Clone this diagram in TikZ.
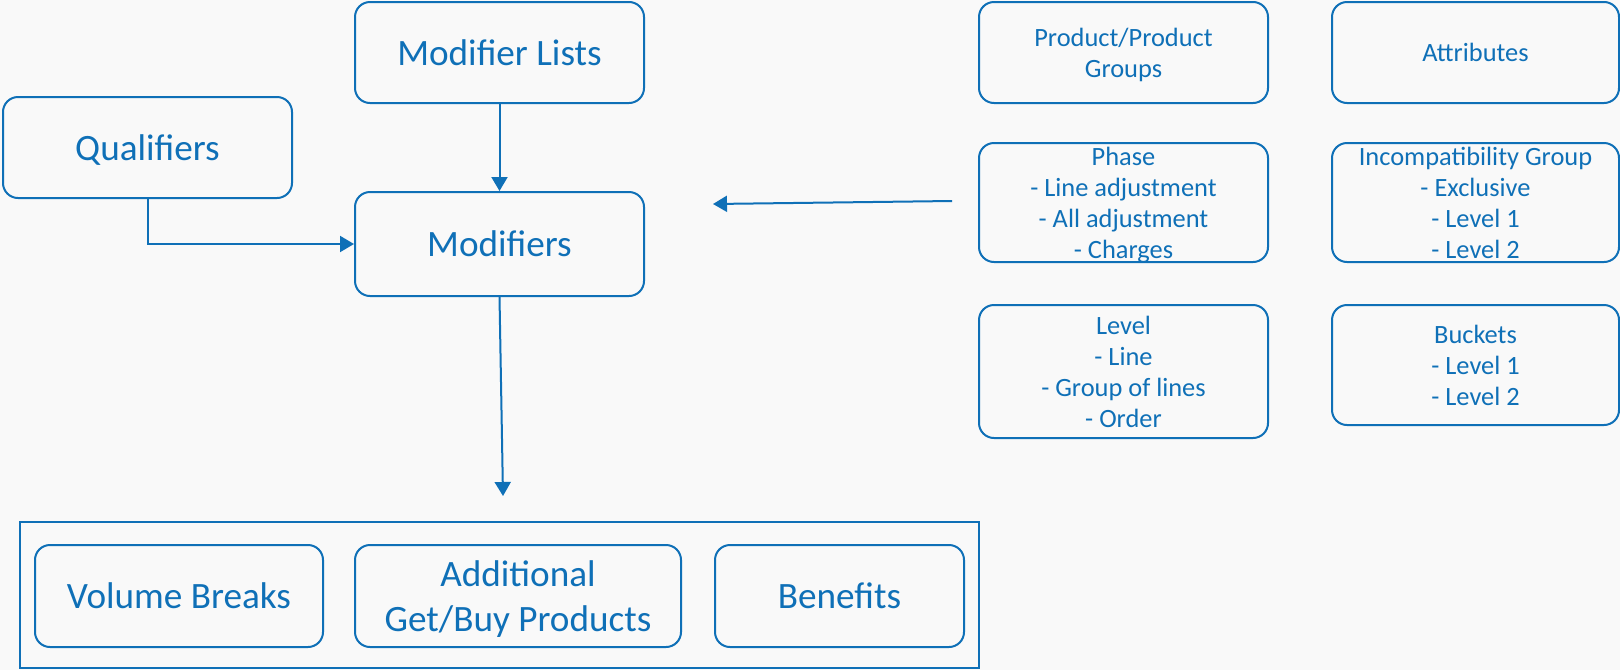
\documentclass[tikz,border=0pt]{standalone}
\usepackage{fontspec}
\setmainfont{Carlito}
\usepackage{xcolor}
\usepackage{tikz}
\usetikzlibrary{positioning, arrows.meta}
\definecolor{modblue}{HTML}{0F70B7}
\definecolor{paper}{HTML}{F9F9F9}
\tikzset{
    box/.style={draw=modblue, line width=1pt, rounded corners=7.5pt, text=modblue, align=center, inner sep=0pt, text depth=0pt},
    big/.style={box, font=\fontsize{18.6}{22.2}\selectfont},
    small/.style={box, font=\fontsize{13.2}{15.5}\selectfont},
    arr/.style={draw=modblue, line width=1pt, -{Triangle[length=7pt,width=8pt]}}
}

\begin{document}
\begin{tikzpicture}[x=0.5pt, y=-0.5pt]
    \fill[paper](0,0) rectangle (1620,670);
    \useasboundingbox (0,0) rectangle (1620,670);
    \node[big, minimum width=144.5pt, minimum height=50.5pt](mlists) at (499.5,52.5){Modifier Lists};
    \node[big, minimum width=144.5pt, minimum height=50.5pt](qual) at (147.5,147.5){Qualifiers};
    \node[big, minimum width=144.5pt, minimum height=52pt](mods) at (499.5,244){Modifiers};
    \node[small, minimum width=144.5pt, minimum height=50.5pt](prod) at (1123.5,52.5){Product/Product\\Groups};
    \node[small, minimum width=143.5pt, minimum height=50.5pt](attr) at (1475.5,52.5){Attributes};
    \node[small, minimum width=144.5pt, minimum height=59.5pt](phase) at (1123.5,202.5){Phase\\- Line adjustment\\- All adjustment\\- Charges};
    \node[small, minimum width=143.5pt, minimum height=59.5pt](incomp) at (1475.5,202.5){Incompatibility Group\\- Exclusive\\- Level 1\\- Level 2};
    \node[small, minimum width=144.5pt, minimum height=66.5pt](level) at (1123.5,371.5){Level\\- Line\\- Group of lines\\- Order};
    \node[small, minimum width=143.5pt, minimum height=60pt](buckets) at (1475.5,365){Buckets\\- Level 1\\- Level 2};
    \node[draw=modblue, line width=1pt, minimum width=479.5pt, minimum height=73pt](group) at (499.5,595){};
    \node[big, minimum width=144pt, minimum height=51pt](vol) at (179,596){Volume Breaks};
    \node[big, minimum width=163pt, minimum height=51pt](addl) at (518,596){Additional\\Get/Buy Products};
    \node[big, minimum width=124.5pt, minimum height=51pt](ben) at (839.5,596){Benefits};
    \coordinate(phaseout) at (952,201);
    \coordinate(modsin) at (713,204);
    \coordinate(groupin) at (503,496);
    \draw[arr](mlists)--(mods);
    \draw[arr](qual.south)|-(mods.west);
    \draw[arr](phaseout)--(modsin);
    \draw[arr](mods.south)--(groupin);
\end{tikzpicture}
\end{document}
